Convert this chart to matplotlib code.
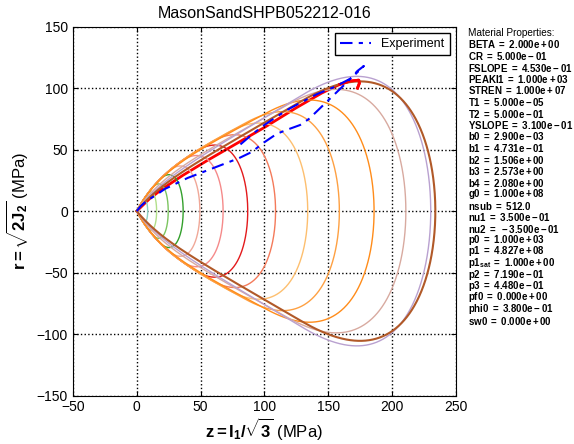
import numpy as np
import matplotlib
matplotlib.use("Agg")
import matplotlib.pyplot as plt

plt.rcParams['font.family'] = ['Liberation Sans', 'DejaVu Sans']
plt.rcParams['mathtext.fontset'] = 'custom'
plt.rcParams['mathtext.rm'] = 'Liberation Sans'
plt.rcParams['mathtext.bf'] = 'Liberation Sans:bold'
plt.rcParams['mathtext.it'] = 'Liberation Sans:italic'

title = "MasonSandSHPB052212-016"

# Yield surfaces: cap position X (r = 0), cap onset kappa, shear envelope slope / offset
cap_x = [8.6, 15.6, 24.7, 36.4, 49.5, 67.7, 87.0, 108.8, 134.0, 158.8, 186.0, 210.9, 230.4, 234.0]
cap_k = [3.5, 7.0, 11.0, 17.0, 24.0, 34.0, 46.0, 58.0, 72.0, 86.0, 102.0, 118.0, 130.0, 130.0]
env_s = [0.55, 0.55, 0.55, 0.55, 0.55, 0.55, 0.55, 0.55, 0.55, 0.55, 0.55, 0.58, 0.62, 0.60]
env_c = [25.0, 25.0, 25.0, 25.0, 25.0, 25.0, 25.0, 25.0, 25.0, 25.0, 24.0, 18.0, 14.0, 12.0]
surf_colors = ['#8ecfc0', '#b2df8a', '#7cc560', '#33a02c', '#f0a898', '#f58a8a',
               '#e31a1c', '#f47a5a', '#fdbf6f', '#fea042', '#ff8c1a', '#d8aaa0',
               '#b9a1d0', '#b15928']
surf_widths = [1.0] * 13 + [1.5]

# Measured path: loading up to the peak, then unloading
exp_z = [0, 3, 8, 15, 22, 30, 40, 50, 60, 70, 80, 90, 100, 110, 120, 128, 135, 141,
         148, 156, 165, 173, 178, 168, 155, 141, 130, 120, 110, 100, 90, 81]
exp_r = [0, 4, 8.5, 13, 18, 22, 27, 31, 35, 39, 43, 48, 56, 63, 67, 70, 75, 81,
         88, 96, 105, 114, 118, 108, 101, 95, 89, 83.5, 77, 70, 62, 54]

# Simulated stress path
sim_z = [0, 10, 20, 36, 55, 75, 100, 125, 145, 159, 167, 174, 174.5, 173]
sim_r = [0, 10, 18, 29, 41, 53, 68, 84, 96, 103, 105.7, 106.5, 104, 100]

prop_labels = ['BETA', 'CR', 'FSLOPE', 'PEAKI1', 'STREN', 'T1', 'T2', 'YSLOPE',
               'b0', 'b1', 'b2', 'b3', 'b4', 'g0', 'nsub', 'nu1', 'nu2', 'p0',
               'p1', 'p1_{sat}', 'p2', 'p3', 'pf0', 'phi0', 'sw0']
prop_values = ['2.000e+00', '5.000e-01', '4.530e-01', '1.000e+03', '1.000e+07',
               '5.000e-05', '5.000e-01', '3.100e-01', '2.900e-03', '4.731e-01',
               '1.506e+00', '2.573e+00', '2.080e+00', '1.000e+08', '512.0',
               '3.500e-01', '-3.500e-01', '1.000e+03', '4.827e+08', '1.000e+00',
               '7.190e-01', '4.480e-01', '0.000e+00', '3.800e-01', '0.000e+00']

fig = plt.figure(figsize=(5.74, 4.44), dpi=100)
ax = fig.add_axes([0.127, 0.109, 0.667, 0.831])

ax.plot(sim_z, sim_r, color='red', lw=2.0, zorder=1.5)

for X, k, s, c, col, lw in zip(cap_x, cap_k, env_s, env_c, surf_colors, surf_widths):
    z1 = np.linspace(0, k, 200)
    t = np.linspace(0, np.pi / 2, 300)
    z2 = k + (X - k) * np.sin(t)
    z = np.concatenate([z1, z2[1:]])
    fc = np.concatenate([np.ones_like(z1), np.cos(t[1:])])
    r = (s * z + c * (1 - np.exp(-z / 18.0))) * fc
    zz = np.concatenate([z, z[::-1]])
    rr = np.concatenate([r, -r[::-1]])
    ax.plot(zz, rr, color=col, lw=lw, zorder=2)

ax.plot(sim_z[-5:], sim_r[-5:], color='red', lw=2.0, zorder=2.5)
ax.plot(exp_z, exp_r, color='blue', lw=1.5, ls=(0, (6, 3, 2, 3)),
        label='Experiment', zorder=3)

ax.set_xlim(-50, 250)
ax.set_ylim(-150, 150)
ax.set_xticks(range(-50, 251, 50))
ax.set_yticks(range(-150, 151, 50))
ax.grid(True, color='black', ls=':', lw=1.0)
ax.tick_params(direction='in', top=True, right=True, labelsize=10)
ax.set_title(title, fontsize=11.5)
ax.set_xlabel(r'$\mathbf{z = I_1/\sqrt{3}}$ (MPa)', fontsize=12, labelpad=1)
ax.set_ylabel(r'$\mathbf{r = \sqrt{2J_2}}$ (MPa)', fontsize=12)
leg = ax.legend(loc='upper right', fontsize=9, fancybox=False, framealpha=1,
                edgecolor='black', handlelength=2.5)
leg.get_frame().set_linewidth(1.0)

y0 = 1 - 33 / 444
dy = 11.5 / 444
fig.text(0.815, y0, 'Material Properties:', fontsize=7.2, va='center')
for i, (name, val) in enumerate(zip(prop_labels, prop_values)):
    fig.text(0.815, y0 - (i + 1) * dy,
             r'$\mathbf{%s\ =\ %s}$' % (name, val), fontsize=7.0, va='center')

fig.savefig('out.png', dpi=100)
